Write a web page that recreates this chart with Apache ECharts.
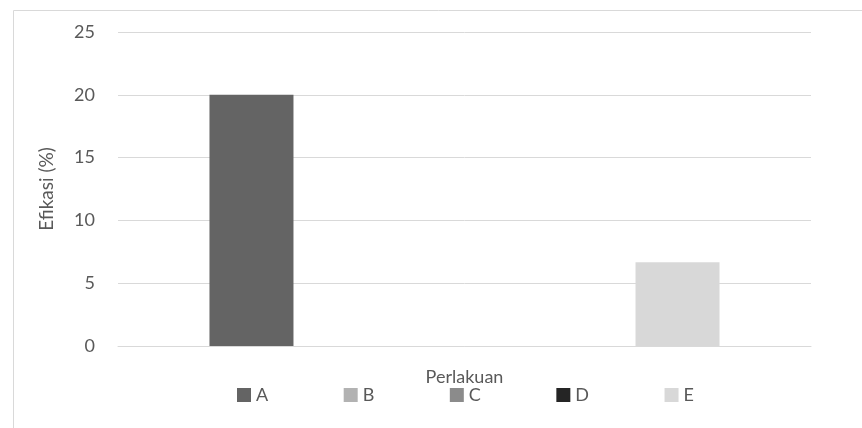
<!DOCTYPE html>
<html>
<head>
<meta charset="utf-8">
<script src="https://cdn.jsdelivr.net/npm/echarts@6/dist/echarts.min.js"></script>
<style>
  html, body { margin: 0; padding: 0; background: #fff; }
  #chart { width: 862px; height: 428px; }
</style>
</head>
<body>
<div id="chart"></div>
<script>
// data
const categories = [''];
const seriesNames = ['A', 'B', 'C', 'D', 'E'];
const seriesValues = [20, 0, 0, 0, 6.67];
const seriesColors = ['#646464', '#b2b2b2', '#8b8b8b', '#252525', '#d8d8d8'];

const chart = echarts.init(document.getElementById('chart'));
const textColor = '#595959';
const font = 'Lato, "Open Sans", sans-serif';

const option = {
    animation: false,
    graphic: [{
        type: 'rect',
        shape: { x: 13.5, y: 10.5, width: 1000, height: 600 },
        style: { fill: 'none', stroke: '#d9d9d9', lineWidth: 1 }
    }],
    grid: { left: 118, right: 51, top: 32, bottom: 82 },
    legend: {
        left: 237, top: 386, padding: 0,
        itemWidth: 14, itemHeight: 14, itemGap: 75.5,
        icon: 'rect',
        textStyle: { color: textColor, fontSize: 18, fontFamily: font },
        data: seriesNames
    },
    xAxis: {
        type: 'category',
        data: categories,
        name: 'Perlakuan',
        nameLocation: 'middle',
        nameGap: 22,
        nameTextStyle: { color: textColor, fontSize: 18, fontFamily: font },
        axisLine: { lineStyle: { color: '#d9d9d9' } },
        axisTick: { show: false },
        axisLabel: { show: false }
    },
    yAxis: {
        type: 'value',
        min: 0, max: 25, interval: 5,
        name: 'Efikasi (%)',
        nameLocation: 'middle',
        nameGap: 62,
        nameTextStyle: { color: textColor, fontSize: 19, fontFamily: font },
        axisLine: { show: false },
        axisTick: { show: false },
        axisLabel: { color: textColor, fontSize: 18, fontFamily: font, margin: 23 },
        splitLine: { lineStyle: { color: '#d9d9d9', width: 1 } }
    },
    series: seriesNames.map((name, i) => ({
        name: name,
        type: 'bar',
        data: [seriesValues[i]],
        barWidth: 84,
        barGap: '26.8%',
        itemStyle: { color: seriesColors[i] }
    }))
};

chart.setOption(option);
</script>
</body>
</html>
